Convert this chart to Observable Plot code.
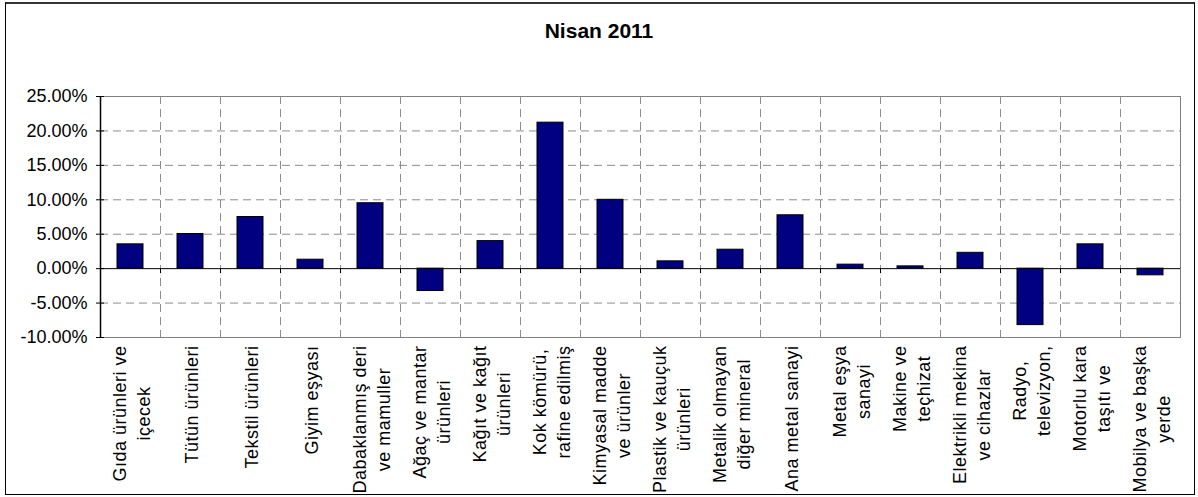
<!DOCTYPE html>
<html><head><meta charset="utf-8">
<script src="https://cdn.jsdelivr.net/npm/d3@7"></script>
<script src="https://cdn.jsdelivr.net/npm/@observablehq/plot@0.6"></script>
<style>
body{margin:0;background:#fff;}
#wrap{position:relative;width:1198px;height:497px;font-family:'Liberation Sans',Arial,sans-serif;overflow:hidden;}
#frame{position:absolute;left:5px;top:2px;width:1190px;height:493px;border:1px solid #000;box-sizing:border-box;border-top:2px solid #333;}
#title{position:absolute;left:0;width:1198px;top:20px;line-height:21px;text-align:center;font-weight:bold;font-size:21px;color:#000;}
#chart{position:absolute;left:0;top:60px;}
#chart g[aria-label="text"] text{letter-spacing:0.5px;}
</style></head>
<body>
<div id="wrap"><div id="frame"></div><div id="title">Nisan 2011</div><div id="chart"></div></div>
<script>
const categories = [
  "Gıda ürünleri ve\niçecek",
  "Tütün ürünleri",
  "Tekstil ürünleri",
  "Giyim eşyası",
  "Dabaklanmış deri\nve mamuller",
  "Ağaç ve mantar\nürünleri",
  "Kağıt ve kağıt\nürünleri",
  "Kok kömürü,\nrafine edilmiş",
  "Kimyasal madde\nve ürünler",
  "Plastik ve kauçuk\nürünleri",
  "Metalik olmayan\ndiğer mineral",
  "Ana metal sanayi",
  "Metal eşya\nsanayi",
  "Makine ve\nteçhizat",
  "Elektrikli mekina\nve cihazlar",
  "Radyo,\ntelevizyon,",
  "Motorlu kara\ntaşıtı ve",
  "Mobilya ve başka\nyerde"
];
const values = [3.53, 5.03, 7.5, 1.3, 9.5, -3.25, 4.0, 21.2, 10.0, 1.06, 2.75, 7.75, 0.58, 0.33, 2.3, -8.2, 3.53, -0.97];
const yTicks = [-10, -5, 0, 5, 10, 15, 20, 25];
const gridTicks = [-5, 5, 10, 15, 20];

const FONT = "'Liberation Sans', Arial, sans-serif";
const data = categories.map((c, i) => ({cat: c, v: values[i]}));

const ctx = document.createElement("canvas").getContext("2d");
ctx.font = "18px " + FONT;

const labelMarks = categories.map(c => {
  const w = Math.max(...c.split("\n").map(l => ctx.measureText(l).width + 0.5 * l.length));
  return Plot.text([c], {
    x: d => d, text: d => d, frameAnchor: "bottom", rotate: -90,
    textAnchor: "middle", lineAnchor: "middle", lineHeight: 1.35,
    dy: 8 + w / 2, fontSize: 18, fill: "black"
  });
});

const chart = Plot.plot({
  width: 1198, height: 437,
  marginLeft: 100, marginRight: 18, marginTop: 36, marginBottom: 160,
  style: {fontFamily: FONT, fontSize: "18px", color: "black", background: "transparent", overflow: "visible"},
  x: {domain: categories, paddingInner: 0.567, paddingOuter: 0.2835, axis: null},
  y: {domain: [-10, 25], axis: null},
  marks: [
    Plot.ruleY(gridTicks, {stroke: "#8c8c8c", strokeDasharray: "8,5"}),
    Plot.ruleX(categories.slice(1), {dx: -30, stroke: "#8c8c8c", strokeDasharray: "8,5"}),
    Plot.frame({stroke: "#808080"}),
    Plot.barY(data, {x: "cat", y: "v", fill: "#000080", stroke: "black", strokeWidth: 1}),
    Plot.ruleY([0], {stroke: "black"}),
    Plot.ruleX(categories.slice(1), {dx: -30, y1: 0, y2: 0, insetBottom: -5, stroke: "black"}),
    Plot.ruleX([categories[0]], {dx: -30, stroke: "black", strokeWidth: 1.5}),
    Plot.axisY({ticks: yTicks, label: null, tickSize: 8, dx: 4, tickPadding: 9, tickFormat: d => d.toFixed(2) + "%", fontSize: 18, stroke: "black", fill: "black"}),
    ...labelMarks
  ]
});
document.getElementById("chart").appendChild(chart);
</script>
</body></html>
